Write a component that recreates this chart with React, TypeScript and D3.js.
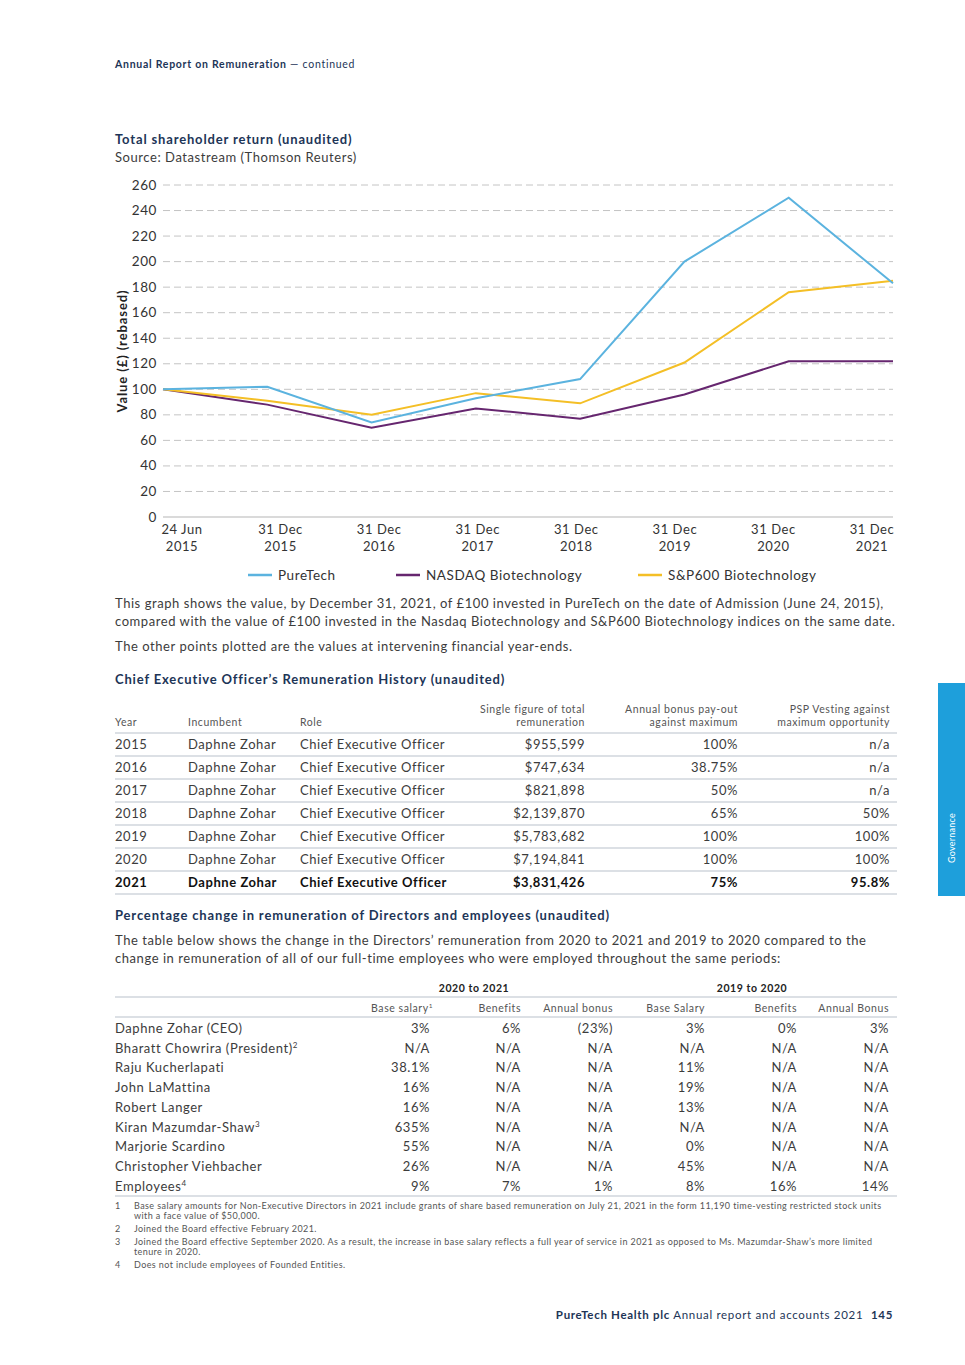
import { useEffect, useRef } from "react";
import * as d3 from "d3";

// chart data (values rebased to 100)
const dateTop = ["24 Jun", "31 Dec", "31 Dec", "31 Dec", "31 Dec", "31 Dec", "31 Dec", "31 Dec"];
const dateBottom = ["2015", "2015", "2016", "2017", "2018", "2019", "2020", "2021"];
const pureTech = [100, 102, 74, 93, 108, 200, 250, 183];
const nasdaq = [100, 88, 70, 85, 77, 96, 122, 122];
const sp600 = [100, 91, 80, 97, 89, 121, 176, 185];
const yTicks = [0, 20, 40, 60, 80, 100, 120, 140, 160, 180, 200, 220, 240, 260];

const seriesNames = ["PureTech", "NASDAQ Biotechnology", "S&P600 Biotechnology"];
const seriesColors = ["#5bb3df", "#66266f", "#f4bf26"];

// CEO table
const ceoYears = ["2015", "2016", "2017", "2018", "2019", "2020", "2021"];
const ceoTotal = ["$955,599", "$747,634", "$821,898", "$2,139,870", "$5,783,682", "$7,194,841", "$3,831,426"];
const ceoBonus = ["100%", "38.75%", "50%", "65%", "100%", "100%", "75%"];
const ceoPsp = ["n/a", "n/a", "n/a", "50%", "100%", "100%", "95.8%"];

// percentage change table
const people = [
  ["Daphne Zohar (CEO)", ""],
  ["Bharatt Chowrira (President)", "2"],
  ["Raju Kucherlapati", ""],
  ["John LaMattina", ""],
  ["Robert Langer", ""],
  ["Kiran Mazumdar-Shaw", "3"],
  ["Marjorie Scardino", ""],
  ["Christopher Viehbacher", ""],
  ["Employees", "4"],
];
const pctValues = [
  ["3%", "6%", "(23%)", "3%", "0%", "3%"],
  ["N/A", "N/A", "N/A", "N/A", "N/A", "N/A"],
  ["38.1%", "N/A", "N/A", "11%", "N/A", "N/A"],
  ["16%", "N/A", "N/A", "19%", "N/A", "N/A"],
  ["16%", "N/A", "N/A", "13%", "N/A", "N/A"],
  ["635%", "N/A", "N/A", "N/A", "N/A", "N/A"],
  ["55%", "N/A", "N/A", "0%", "N/A", "N/A"],
  ["26%", "N/A", "N/A", "45%", "N/A", "N/A"],
  ["9%", "7%", "1%", "8%", "16%", "14%"],
];
const pctHeads = ["Base salary", "Benefits", "Annual bonus", "Base Salary", "Benefits", "Annual Bonus"];
const pctCols = [430, 521, 613, 705, 797, 889];

const footnotes = [
  ["1", "Base salary amounts for Non-Executive Directors in 2021 include grants of share based remuneration on July 21, 2021 in the form 11,190 time-vesting restricted stock units", "with a face value of $50,000."],
  ["2", "Joined the Board effective February 2021."],
  ["3", "Joined the Board effective September 2020. As a result, the increase in base salary reflects a full year of service in 2021 as opposed to Ms. Mazumdar-Shaw’s more limited", "tenure in 2020."],
  ["4", "Does not include employees of Founded Entities."],
];

const NAVY = "#1d3557";
const TEXT = "#3c3c3c";
const RULE = "#b9c1cc";
const FONT = "Lato, 'Noto Sans', sans-serif";
const HEAD_LS = "0.065em";

function Chart() {
  const gRef = useRef<SVGGElement | null>(null);

  useEffect(() => {
    const g = d3.select(gRef.current);
    g.selectAll("*").remove();

    const idx = d3.range(dateTop.length);
    const x = d3.scalePoint<number>().domain(idx).range([163, 893]);
    const xLab = d3.scalePoint<number>().domain(idx).range([182, 872]);
    const y = d3.scaleLinear().domain([0, 260]).range([517, 185]);

    // gridlines
    g.append("g")
      .selectAll("line")
      .data(yTicks.filter((t) => t > 0))
      .enter()
      .append("line")
      .attr("x1", 163)
      .attr("x2", 893)
      .attr("y1", (d) => y(d))
      .attr("y2", (d) => y(d))
      .attr("stroke", "#c4c4c4")
      .attr("stroke-width", 1)
      .attr("stroke-dasharray", "7,4");

    g.append("line")
      .attr("x1", 163)
      .attr("x2", 893)
      .attr("y1", y(0))
      .attr("y2", y(0))
      .attr("stroke", "#b5b5b5")
      .attr("stroke-width", 1.2);

    // y tick labels
    g.append("g")
      .selectAll("text")
      .data(yTicks)
      .enter()
      .append("text")
      .attr("x", 157)
      .attr("y", (d) => y(d) + 4.5)
      .attr("text-anchor", "end")
      .attr("font-size", 13.5)
      .attr("fill", "#333")
      .text((d) => d);

    g.append("text")
      .attr("transform", `translate(127,${y(130)}) rotate(-90)`)
      .attr("text-anchor", "middle")
      .attr("font-size", 13)
      .attr("font-weight", 700)
      .attr("letter-spacing", "0.07em")
      .attr("fill", "#222")
      .text("Value (£) (rebased)");

    // x labels
    const xl = g.append("g").selectAll("text").data(idx).enter().append("text")
      .attr("text-anchor", "middle")
      .attr("font-size", 13)
      .attr("fill", "#333");
    xl.append("tspan").attr("x", (d) => xLab(d)!).attr("y", 534).text((d) => dateTop[d]);
    xl.append("tspan").attr("x", (d) => xLab(d)!).attr("y", 551).text((d) => dateBottom[d]);

    // lines
    const line = d3.line<number>().x((_, i) => x(i)!).y((d) => y(d));
    const drawOrder = [1, 2, 0];
    const all = [pureTech, nasdaq, sp600];
    drawOrder.forEach((k) => {
      g.append("path")
        .datum(all[k])
        .attr("d", line)
        .attr("fill", "none")
        .attr("stroke", seriesColors[k])
        .attr("stroke-width", 2);
    });

    // legend
    const legX = [248, 396, 638];
    const lg = g.append("g").selectAll("g").data(seriesNames).enter().append("g")
      .attr("transform", (_, i) => `translate(${legX[i]},575)`);
    lg.append("line").attr("x1", 0).attr("x2", 24).attr("stroke", (_, i) => seriesColors[i]).attr("stroke-width", 2.5);
    lg.append("text").attr("x", 30).attr("y", 5).attr("font-size", 13.5).attr("fill", "#333").text((d) => d);
  }, []);

  return <g ref={gRef} fontFamily={FONT} />;
}

export default function App() {
  const ceoRowY = (i: number) => 749 + i * 23;
  const pctRowY = (i: number) => 1033 + i * 19.7;

  return (
    <div style={{ position: "absolute", left: 0, top: 0 }}>
      <svg width={965} height={1365} viewBox="0 0 965 1365" fontFamily={FONT} letterSpacing="0.035em" style={{ display: "block", background: "#fff" }}>
        <text x={115} y={68} fontSize={10.5} fill={NAVY} letterSpacing="0.07em">
          <tspan fontWeight={700}>Annual Report on Remuneration</tspan>
          <tspan> — continued</tspan>
        </text>

        <text x={115} y={144} fontSize={13} fontWeight={700} fill={NAVY} letterSpacing={HEAD_LS}>Total shareholder return (unaudited)</text>
        <text x={115} y={162} fontSize={13} fill={TEXT}>Source: Datastream (Thomson Reuters)</text>

        <Chart />

        <g fontSize={13} fill={TEXT}>
          <text x={115} y={608}>This graph shows the value, by December 31, 2021, of £100 invested in PureTech on the date of Admission (June 24, 2015),</text>
          <text x={115} y={626}>compared with the value of £100 invested in the Nasdaq Biotechnology and S&amp;P600 Biotechnology indices on the same date.</text>
          <text x={115} y={651}>The other points plotted are the values at intervening financial year-ends.</text>
        </g>

        <text x={115} y={684} fontSize={13} fontWeight={700} fill={NAVY} letterSpacing={HEAD_LS}>Chief Executive Officer’s Remuneration History (unaudited)</text>

        <g fontSize={10.5} fill="#555">
          <text x={115} y={726}>Year</text>
          <text x={188} y={726}>Incumbent</text>
          <text x={300} y={726}>Role</text>
          <text x={585} y={713} textAnchor="end">Single figure of total</text>
          <text x={585} y={726} textAnchor="end">remuneration</text>
          <text x={738} y={713} textAnchor="end">Annual bonus pay-out</text>
          <text x={738} y={726} textAnchor="end">against maximum</text>
          <text x={890} y={713} textAnchor="end">PSP Vesting against</text>
          <text x={890} y={726} textAnchor="end">maximum opportunity</text>
        </g>
        <line x1={115} x2={897} y1={733} y2={733} stroke={RULE} strokeWidth={1.2} />
        {ceoYears.map((yr, i) => {
          const bold = i === ceoYears.length - 1;
          const yy = ceoRowY(i);
          return (
            <g key={yr} fontSize={13} fill={bold ? "#111" : TEXT} fontWeight={bold ? 700 : 400}>
              <text x={115} y={yy}>{yr}</text>
              <text x={188} y={yy}>Daphne Zohar</text>
              <text x={300} y={yy}>Chief Executive Officer</text>
              <text x={585} y={yy} textAnchor="end">{ceoTotal[i]}</text>
              <text x={738} y={yy} textAnchor="end">{ceoBonus[i]}</text>
              <text x={890} y={yy} textAnchor="end">{ceoPsp[i]}</text>
              <line x1={115} x2={897} y1={yy + 7} y2={yy + 7} stroke={RULE} strokeWidth={1.2} />
            </g>
          );
        })}

        <text x={115} y={920} fontSize={13} fontWeight={700} fill={NAVY} letterSpacing={HEAD_LS}>Percentage change in remuneration of Directors and employees (unaudited)</text>
        <g fontSize={13} fill={TEXT}>
          <text x={115} y={945}>The table below shows the change in the Directors’ remuneration from 2020 to 2021 and 2019 to 2020 compared to the</text>
          <text x={115} y={963}>change in remuneration of all of our full-time employees who were employed throughout the same periods:</text>
        </g>

        <g fontSize={10.5} fontWeight={700} fill="#222">
          <text x={474} y={992} textAnchor="middle">2020 to 2021</text>
          <text x={752} y={992} textAnchor="middle">2019 to 2020</text>
        </g>
        <line x1={115} x2={897} y1={997} y2={997} stroke={RULE} strokeWidth={1.2} />
        <g fontSize={10.5} fill="#555">
          {pctHeads.map((h, i) => (
            <text key={i} x={pctCols[i] + (i === 0 ? 3 : 0)} y={1012} textAnchor="end">
              {h}
              {i === 0 ? <tspan fontSize={6.5} dy={-4}>1</tspan> : null}
            </text>
          ))}
        </g>
        <line x1={115} x2={897} y1={1017} y2={1017} stroke={RULE} strokeWidth={1.2} />
        {people.map(([name, sup], i) => {
          const yy = pctRowY(i);
          return (
            <g key={name} fontSize={13} fill={TEXT}>
              <text x={115} y={yy}>
                {name}
                {sup ? <tspan fontSize={8} dy={-5}>{sup}</tspan> : null}
              </text>
              {pctValues[i].map((v, j) => (
                <text key={j} x={pctCols[j]} y={yy} textAnchor="end">{v}</text>
              ))}
            </g>
          );
        })}
        <line x1={115} x2={897} y1={1196} y2={1196} stroke={RULE} strokeWidth={1.2} />

        <g fontSize={9} fill="#555" letterSpacing="0.045em">
          {(() => {
            const ys = [1209, 1232, 1245, 1268];
            return footnotes.map((f, i) => (
              <g key={f[0]}>
                <text x={115} y={ys[i]}>{f[0]}</text>
                <text x={134} y={ys[i]}>{f[1]}</text>
                {f[2] ? <text x={134} y={ys[i] + 10}>{f[2]}</text> : null}
              </g>
            ));
          })()}
        </g>

        <text x={893} y={1319} fontSize={11.5} fill={NAVY} textAnchor="end" letterSpacing="0.06em">
          <tspan fontWeight={700}>PureTech Health plc</tspan>
          <tspan> Annual report and accounts 2021 </tspan>
          <tspan fontWeight={700} dx={4}>145</tspan>
        </text>

        <rect x={938} y={683} width={27} height={213} fill="#1e9fdb" />
        <text transform="translate(955,838) rotate(-90)" textAnchor="middle" fontSize={9} fill="#fff" letterSpacing="0.03em">Governance</text>
      </svg>
    </div>
  );
}
